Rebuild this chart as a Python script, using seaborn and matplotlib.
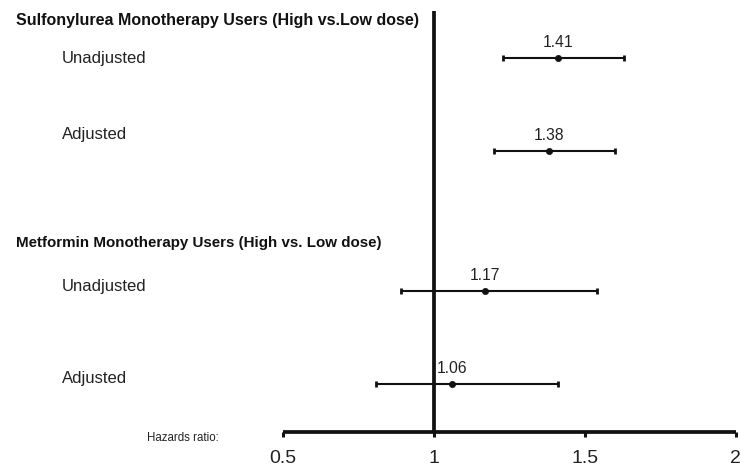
import matplotlib
matplotlib.use("Agg")
import matplotlib.pyplot as plt
import seaborn as sns
import pandas as pd

# Hazard ratios with 95% confidence limits
groups = ["Sulfonylurea Monotherapy Users (High vs.Low dose)",
          "Metformin Monotherapy Users (High vs. Low dose)"]
models = ["Unadjusted", "Adjusted", "Unadjusted", "Adjusted"]
hazard_ratio = [1.41, 1.38, 1.17, 1.06]
ci_low = [1.23, 1.20, 0.89, 0.81]
ci_high = [1.63, 1.60, 1.54, 1.41]
tick_values = [0.5, 1, 1.5, 2]
tick_labels = ["0.5", "1", "1.5", "2"]

# Layout (vertical positions in pixel rows of the 468 px tall canvas)
row_y = [57.7, 150.7, 291, 383.7]
model_label_y = [59, 135, 287, 378]
group_label_y = [20, 243]
group_font_size = [11.5, 10.9]
axis_y = 432

sns.set_style("white")
plt.rcParams["font.family"] = ["Liberation Sans", "DejaVu Sans"]

df = pd.DataFrame({"model": models, "hr": hazard_ratio, "lo": ci_low,
                   "hi": ci_high, "y": row_y})

fig = plt.figure(figsize=(7.4, 4.68), dpi=100)
H = 468.0
ax = fig.add_axes([0, (H - axis_y) / H, 1, axis_y / H])
ax.set_xlim(-0.436, 2.014)
ax.set_ylim(axis_y, 0)

ink = "#111111"
text_col = "#222222"

# Reference line at HR = 1
ax.plot([1, 1], [11, axis_y], color=ink, lw=2.7, solid_capstyle="butt", zorder=2)

# Confidence intervals
ax.errorbar(df["hr"], df["y"],
            xerr=[df["hr"] - df["lo"], df["hi"] - df["hr"]],
            fmt="none", ecolor=ink, elinewidth=1.5, capsize=2.4, capthick=2.0,
            zorder=3)
# Point estimates
sns.scatterplot(data=df, x="hr", y="y", ax=ax, color=ink, s=20,
                marker="o", edgecolor=ink, linewidth=0.5, zorder=4, legend=False)

# Value labels
for hr, y in zip(df["hr"], df["y"]):
    ax.text(hr, y - 15, f"{hr:.2f}", ha="center", va="center",
            fontsize=11.3, color=text_col)

# Row labels
for name, y in zip(models, model_label_y):
    ax.text(-0.230, y, name, ha="left", va="center", fontsize=12,
            color=text_col)

for name, y, fs in zip(groups, group_label_y, group_font_size):
    ax.text(-0.383, y, name, ha="left", va="center", fontsize=fs,
            fontweight="bold", color=ink)

ax.text(-0.436 + 147 / 302.0, axis_y + 6, "Hazards ratio:", ha="left",
        va="center", fontsize=8.3, color=text_col)

# Bottom axis
for side in ["top", "right", "left"]:
    ax.spines[side].set_visible(False)
ax.spines["bottom"].set_bounds(0.5, 2)
ax.spines["bottom"].set_linewidth(2.7)
ax.spines["bottom"].set_color(ink)
ax.spines["bottom"].set_capstyle("butt")
ax.set_xticks(tick_values)
ax.set_xticklabels(tick_labels)
ax.tick_params(axis="x", direction="out", length=3.5, width=2.2, color=ink,
               pad=9.5, labelsize=14, labelcolor=text_col, bottom=True)
ax.set_yticks([])
ax.set_xlabel("")
ax.set_ylabel("")
ax.patch.set_alpha(0)

fig.savefig("out.png", dpi=100)
